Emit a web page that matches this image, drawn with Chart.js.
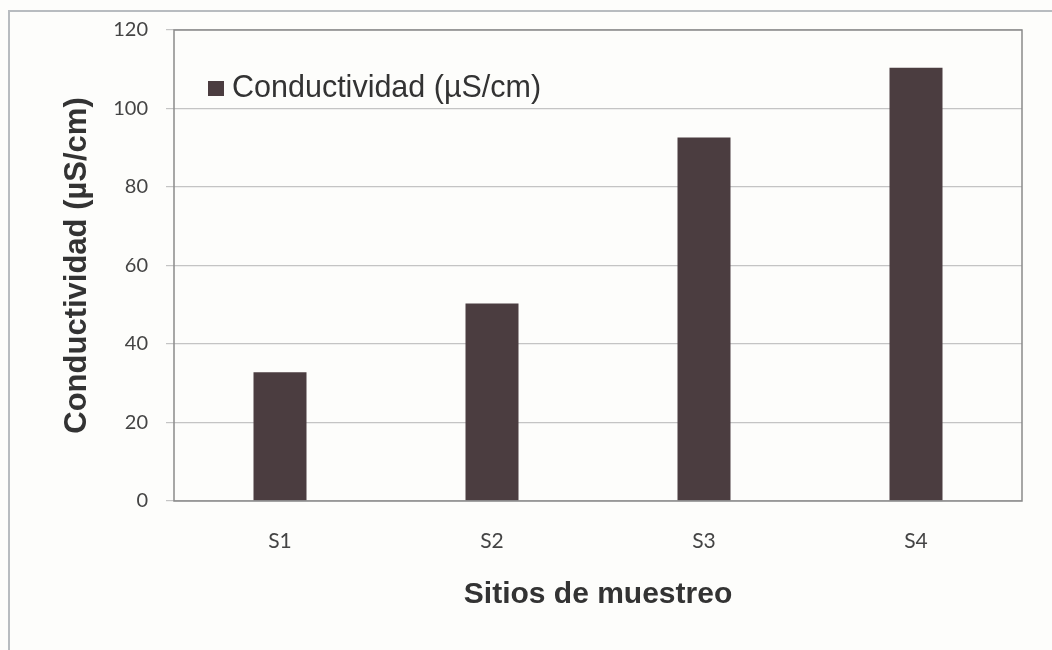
<!DOCTYPE html>
<html>
<head>
<meta charset="utf-8">
<script src="https://cdn.jsdelivr.net/npm/chart.js@4/dist/chart.umd.min.js"></script>
<style>
  html, body { margin: 0; padding: 0; background: #fdfdfb; overflow: hidden; }
  #wrap { position: relative; width: 1052px; height: 650px; }
  #frame { position: absolute; left: 8px; top: 10px; width: 1100px; height: 700px;
           border-top: 2px solid #b8bcc0; border-left: 2px solid #b8bcc0; box-sizing: border-box; }
  canvas { position: absolute; left: 0; top: 0; }
</style>
</head>
<body>
<div id="wrap">
  <div id="frame"></div>
  <canvas id="c" width="1052" height="650"></canvas>
</div>
<script>
const categories = ['S1', 'S2', 'S3', 'S4'];
const seriesLabel = 'Conductividad (µS/cm)';
const conductividad = [32.8, 50.3, 92.6, 110.4];
const yTicks = [0, 20, 40, 60, 80, 100, 120];
const xTitle = 'Sitios de muestreo';
const yTitle = 'Conductividad (µS/cm)';

const barColor = '#4b3d40';

const framePlugin = {
  id: 'frame',
  afterDatasetsDraw(chart) {
    const {ctx, chartArea: a} = chart;
    ctx.save();
    ctx.strokeStyle = '#8a8a8a';
    ctx.lineWidth = 1.5;
    ctx.strokeRect(a.left, a.top, a.right - a.left, a.bottom - a.top);
    ctx.restore();
  }
};

const insideLegend = {
  id: 'insideLegend',
  afterDraw(chart) {
    const {ctx, chartArea: a} = chart;
    const ds = chart.data.datasets[0];
    ctx.save();
    ctx.fillStyle = ds.backgroundColor;
    ctx.fillRect(a.left + 34, a.top + 51, 16, 15);
    ctx.fillStyle = '#333333';
    ctx.font = '30.5px "Liberation Sans", Arial, sans-serif';
    ctx.textBaseline = 'middle';
    ctx.fillText(ds.label, a.left + 58, a.top + 59);
    ctx.restore();
  }
};

new Chart(document.getElementById('c'), {
  type: 'bar',
  data: {
    labels: categories,
    datasets: [{
      label: seriesLabel,
      data: conductividad,
      backgroundColor: barColor,
      borderWidth: 0,
      categoryPercentage: 1.0,
      barPercentage: 0.25
    }]
  },
  options: {
    responsive: false,
    animation: false,
    events: [],
    layout: { padding: { top: 26, right: 30, left: 0, bottom: 0 } },
    plugins: {
      legend: { display: false },
      tooltip: { enabled: false }
    },
    scales: {
      x: {
        grid: { display: false },
        border: { display: false },
        ticks: { color: '#444', font: { family: 'Lato', size: 21 }, padding: 20 },
        title: { display: true, text: xTitle, color: '#333',
                 font: { family: '"Liberation Sans"', size: 30, weight: 'bold' },
                 padding: { top: 0, bottom: 37 } },
        afterFit(s) { s.height = 149; }
      },
      y: {
        min: 0, max: 120,
        afterBuildTicks(s) { s.ticks = yTicks.map(v => ({ value: v })); },
        grid: { color: '#c4c4c4', lineWidth: 1.2, tickLength: 8, drawOnChartArea: true },
        border: { display: false },
        ticks: { color: '#444', font: { family: 'Lato', size: 20 }, padding: 18 },
        title: { display: true, text: yTitle, color: '#333',
                 font: { family: '"Liberation Sans"', size: 31, weight: 'bold' },
                 padding: { top: 59, bottom: 0 } },
        afterFit(s) { s.width = 174; }
      }
    }
  },
  plugins: [framePlugin, insideLegend]
});
</script>
</body>
</html>
